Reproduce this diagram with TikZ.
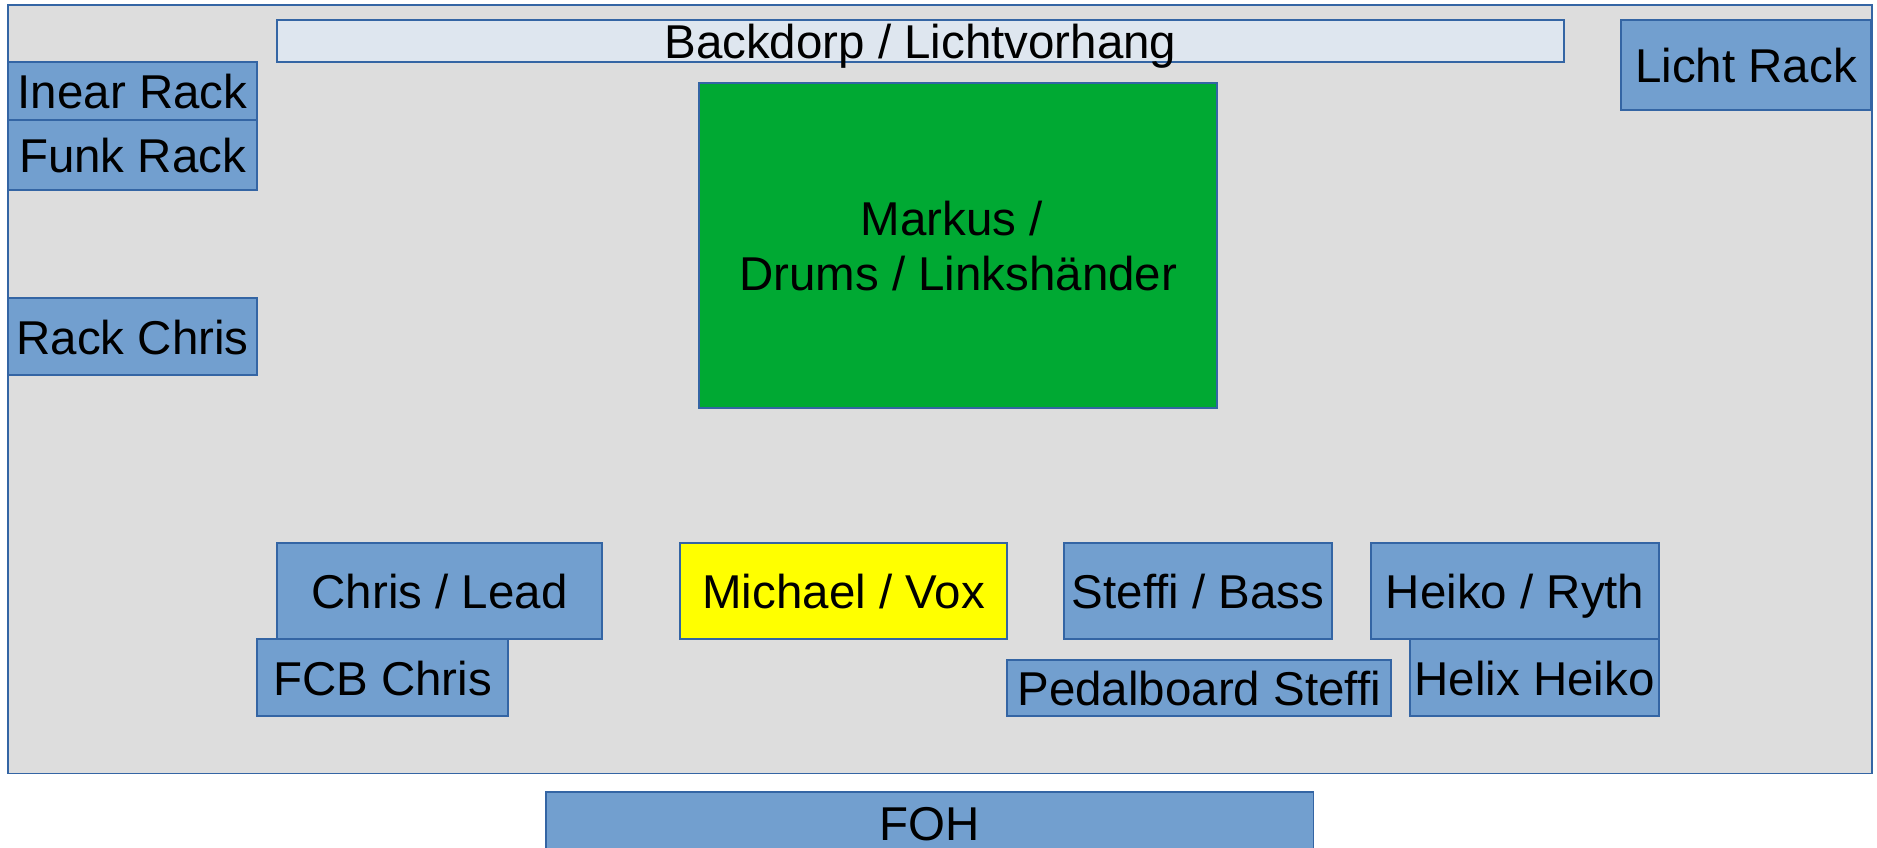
\documentclass[tikz,border=0pt]{standalone}
\usepackage{fontspec}
\setmainfont{Liberation Sans}
\definecolor{stagegray}{HTML}{DDDDDD}
\definecolor{edge}{HTML}{3465A4}
\definecolor{rackblue}{HTML}{729FCF}
\definecolor{curtain}{HTML}{DEE6EF}
\definecolor{drumgreen}{HTML}{00A933}
\definecolor{voxyellow}{HTML}{FFFF00}

\begin{document}
\begin{tikzpicture}[x=0.01cm,y=-0.01cm,
  box/.style={draw=edge, fill=rackblue, line width=0.5pt, inner sep=0pt, outer sep=0pt,
    anchor=north west, font=\fontsize{13.5pt}{15.6pt}\selectfont},
  oneline/.style={box, text height=0.35cm, text depth=0pt}]
\useasboundingbox (0,0) rectangle (1877,847);
\clip (0,0) rectangle (1877,847);

\node[box, fill=stagegray, minimum width=18.63cm, minimum height=7.68cm] (stage) at (8,5) {};

\node[oneline, fill=curtain, minimum width=12.86cm, minimum height=0.42cm] (backdrop) at (277,20) {Backdorp / Lichtvorhang};
\node[oneline, minimum width=2.50cm, minimum height=0.90cm] (lichtrack) at (1621,20) {Licht Rack};

\node[oneline, minimum width=2.49cm, minimum height=0.58cm] (inearrack) at (8,62) {Inear Rack};
\node[oneline, minimum width=2.49cm, minimum height=0.70cm] (funkrack) at (8,120) {Funk Rack};
\node[oneline, minimum width=2.49cm, minimum height=0.77cm] (rackchris) at (8,298) {Rack Chris};

\node[box, fill=drumgreen, align=center, minimum width=5.18cm, minimum height=3.25cm] (markus) at (699,83) {\mbox{Markus /\ }\\Drums / Linksh\"ander};

\node[oneline, minimum width=3.25cm, minimum height=0.96cm] (chris) at (277,543) {Chris / Lead};
\node[oneline, minimum width=2.51cm, minimum height=0.77cm] (fcbchris) at (257,639) {FCB Chris};
\node[oneline, fill=voxyellow, minimum width=3.27cm, minimum height=0.96cm] (michael) at (680,543) {Michael / Vox};
\node[oneline, minimum width=2.68cm, minimum height=0.96cm] (steffi) at (1064,543) {Steffi / Bass};
\node[oneline, minimum width=3.84cm, minimum height=0.56cm] (pedalsteffi) at (1007,660) {Pedalboard Steffi};
\node[oneline, minimum width=2.88cm, minimum height=0.96cm] (heiko) at (1371,543) {Heiko / Ryth};
\node[oneline, minimum width=2.49cm, minimum height=0.77cm] (helixheiko) at (1410,639) {Helix Heiko};

\node[oneline, minimum width=7.67cm, minimum height=0.62cm] (foh) at (546,792) {FOH};
\end{tikzpicture}
\end{document}
